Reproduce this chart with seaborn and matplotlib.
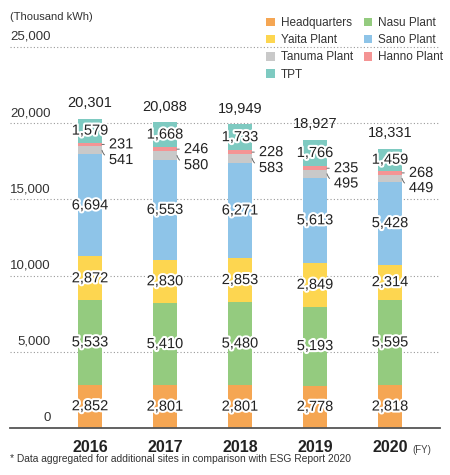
import pandas as pd
import matplotlib.pyplot as plt
import seaborn as sns
from matplotlib.patches import Patch
import matplotlib.patheffects as pe

years = ['2016', '2017', '2018', '2019', '2020']
headquarters = [2852, 2801, 2801, 2778, 2818]
nasu = [5533, 5410, 5480, 5193, 5595]
yaita = [2872, 2830, 2853, 2849, 2314]
sano = [6694, 6553, 6271, 5613, 5428]
tanuma = [541, 580, 583, 495, 449]
hanno = [231, 246, 228, 235, 268]
tpt = [1579, 1668, 1733, 1766, 1459]
totals = [20301, 20088, 19949, 18927, 18331]

series_names = ['Headquarters', 'Nasu Plant', 'Yaita Plant', 'Sano Plant',
                'Tanuma Plant', 'Hanno Plant', 'TPT']
series_values = [headquarters, nasu, yaita, sano, tanuma, hanno, tpt]
colors = ['#F5A653', '#94CB7F', '#FDD650', '#8EC4E8', '#C9C9C9', '#F49494', '#7ECAC1']
y_ticks = [0, 5000, 10000, 15000, 20000, 25000]

sns.set_theme(style='white')
plt.rcParams['font.family'] = ['Liberation Sans', 'DejaVu Sans']
text_color = '#222222'

df = pd.DataFrame({'year': years})
for name, vals in zip(series_names, series_values):
    df[name] = vals
cum = df[series_names].cumsum(axis=1)
bottoms = cum.shift(1, axis=1).fillna(0)

fig = plt.figure(figsize=(4.5, 4.75), dpi=100)
ax = fig.add_axes([10 / 450, 47 / 475, 430 / 450, 381 / 475])

# stacked bars: draw cumulative heights from the top layer down
for name, color in reversed(list(zip(series_names, colors))):
    sns.barplot(x=df['year'], y=cum[name], color=color, saturation=1,
                width=0.32, errorbar=None, ax=ax, zorder=3, linewidth=0)

ax.set_xlim(-80 / 75, 350 / 75)
ax.set_ylim(0, 25000)
ax.set_ylabel('')
ax.set_xlabel('')
ax.set_yticks([])
for s in ['top', 'right', 'left']:
    ax.spines[s].set_visible(False)
ax.spines['bottom'].set_color('#555555')
ax.spines['bottom'].set_linewidth(1.3)
ax.spines['bottom'].set_zorder(5)

for t in y_ticks:
    if t > 0:
        ax.axhline(t, color='#9a9a9a', lw=0.8, dashes=(1, 2), zorder=1, clip_on=False)
    ax.annotate(f'{t:,}', xy=(-0.52, t), xytext=(0, 3), textcoords='offset points',
                ha='right', va='bottom', fontsize=9.5, color='#333333')

ax.set_xticks(range(len(years)))
ax.set_xticklabels(years, fontsize=11.5, fontweight='bold', color=text_color)
ax.tick_params(axis='x', length=0, pad=9)
ax.annotate('(FY)', xy=(4, 0), xytext=(16, -16), textcoords='offset points',
            ha='left', va='center', fontsize=7, color='#444444',
            annotation_clip=False)

stroke = [pe.withStroke(linewidth=3, foreground='white')]
for i in range(len(years)):
    for name in ['Headquarters', 'Nasu Plant', 'Yaita Plant', 'Sano Plant', 'TPT']:
        mid = bottoms.loc[i, name] + df.loc[i, name] / 2
        ax.text(i, mid, f'{df.loc[i, name]:,}', ha='center', va='center',
                fontsize=10.5, color=text_color, path_effects=stroke, zorder=6)
    # small segments with leader lines
    h_mid = bottoms.loc[i, 'Hanno Plant'] + df.loc[i, 'Hanno Plant'] / 2
    ax.annotate(f"{df.loc[i, 'Hanno Plant']:,}", xy=(i + 0.16, h_mid),
                xytext=(5, 0), textcoords='offset points', ha='left', va='center',
                fontsize=10.5, color=text_color, path_effects=stroke, zorder=6,
                arrowprops=dict(arrowstyle='-', color='#666666', lw=0.7,
                                shrinkA=1, shrinkB=0, relpos=(0, 0.5)))
    t_mid = bottoms.loc[i, 'Tanuma Plant'] + df.loc[i, 'Tanuma Plant'] / 2
    ax.annotate(f"{df.loc[i, 'Tanuma Plant']:,}", xy=(i + 0.16, t_mid),
                xytext=(5, -7), textcoords='offset points', ha='left', va='center',
                fontsize=10.5, color=text_color, path_effects=stroke, zorder=6,
                arrowprops=dict(arrowstyle='-', color='#666666', lw=0.7,
                                shrinkA=1, shrinkB=0, relpos=(0, 0.7),
                                connectionstyle='arc3,rad=-0.3'))
    ax.annotate(f'{totals[i]:,}', xy=(i, totals[i]), xytext=(0, 11),
                textcoords='offset points', ha='center', va='center',
                fontsize=10.5, color=text_color, zorder=6)

fig.text(10 / 450, 1 - 17 / 475, '(Thousand kWh)', fontsize=8, color='#333333',
         ha='left', va='center')
fig.text(10 / 450, 1 - 459 / 475,
         '* Data aggregated for additional sites in comparison with ESG Report 2020',
         fontsize=7.4, color='#333333', ha='left', va='center')

order = [0, 2, 4, 6, 1, 3, 5]
handles = [Patch(facecolor=colors[k], edgecolor='none') for k in order]
labels = [series_names[k] for k in order]
fig.legend(handles, labels, ncol=2, loc='upper left',
           bbox_to_anchor=(266 / 450, 1 - 17 / 475), frameon=False,
           fontsize=8.5, handlelength=0.75, handleheight=0.75, handletextpad=0.5,
           labelspacing=0.44, columnspacing=0.9, borderaxespad=0, borderpad=0,
           labelcolor='#333333')

fig.savefig('out.png', dpi=100)
